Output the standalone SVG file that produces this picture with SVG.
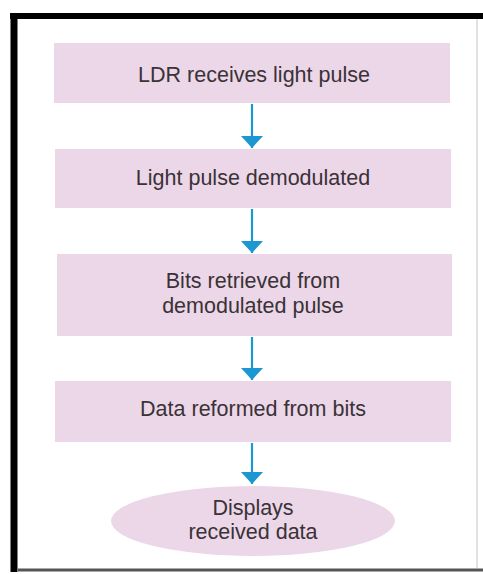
<svg xmlns="http://www.w3.org/2000/svg" width="483" height="574" viewBox="0 0 483 574">
<defs>
<style>
.box{fill:#ecd7e8;}
.lbl{font-family:"Liberation Sans",Arial,sans-serif;font-size:21.5px;fill:#3a3237;text-anchor:middle;}
.conn{stroke:#1c97d2;stroke-width:2.2;fill:none;}
</style>
<marker id="ah" markerWidth="13" markerHeight="22" refX="12" refY="11" orient="auto" markerUnits="userSpaceOnUse">
<path d="M0,0 L12,11 L0,22 Z" fill="#1c97d2"/>
</marker>
</defs>
<rect x="0" y="0" width="483" height="574" fill="#ffffff"/>
<g id="frame">
<line x1="10" y1="16" x2="483" y2="16" stroke="#000" stroke-width="6"/>
<line x1="14" y1="13" x2="14" y2="572" stroke="#000" stroke-width="7"/>
<line x1="477" y1="19" x2="477" y2="568" stroke="#d8d8d8" stroke-width="1.5"/>
<line x1="18" y1="570" x2="483" y2="570" stroke="#555" stroke-width="3"/>
</g>
<g id="n1">
<rect class="box" x="54" y="43" width="396" height="60"/>
<text class="lbl" x="254" y="82">LDR receives light pulse</text>
</g>
<g id="n2">
<rect class="box" x="55" y="149" width="396" height="59"/>
<text class="lbl" x="253" y="185">Light pulse demodulated</text>
</g>
<g id="n3">
<rect class="box" x="57" y="254" width="395" height="82"/>
<text class="lbl" x="253" y="288">Bits retrieved from</text>
<text class="lbl" x="253" y="313">demodulated pulse</text>
</g>
<g id="n4">
<rect class="box" x="55" y="381" width="396" height="61"/>
<text class="lbl" x="253" y="416">Data reformed from bits</text>
</g>
<g id="n5">
<ellipse class="box" cx="253" cy="521" rx="142" ry="35"/>
<text class="lbl" x="253" y="515">Displays</text>
<text class="lbl" x="253" y="539">received data</text>
</g>
<g id="connectors">
<line class="conn" x1="252" y1="104" x2="252" y2="148" marker-end="url(#ah)"/>
<line class="conn" x1="252" y1="209" x2="252" y2="253" marker-end="url(#ah)"/>
<line class="conn" x1="252" y1="337" x2="252" y2="380" marker-end="url(#ah)"/>
<line class="conn" x1="252" y1="443" x2="252" y2="484" marker-end="url(#ah)"/>
</g>
</svg>
